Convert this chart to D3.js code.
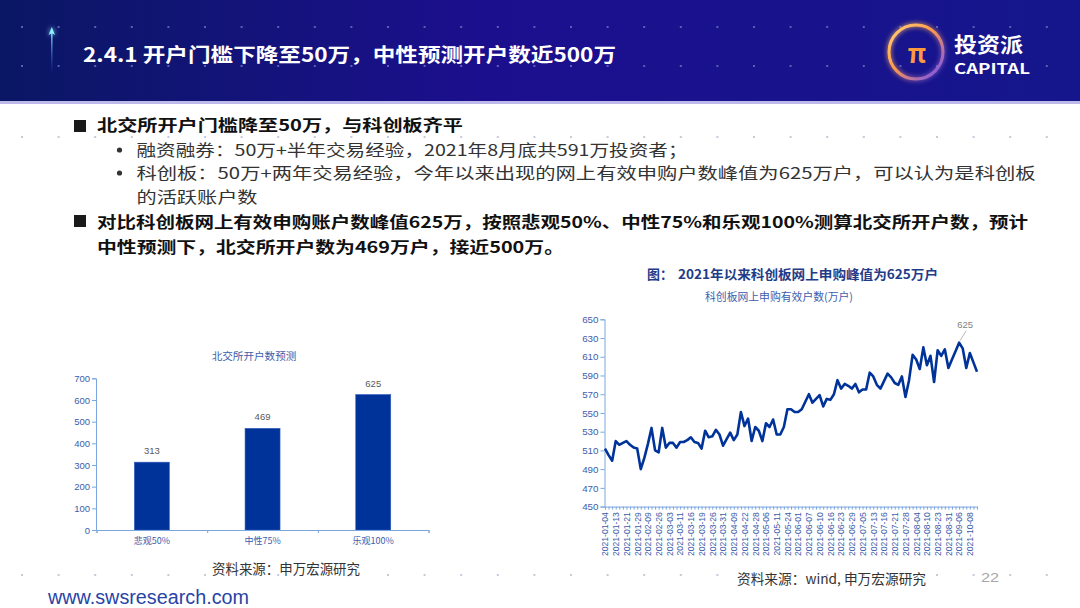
<!DOCTYPE html>
<html>
<head>
<meta charset="utf-8">
<script src="https://cdn.jsdelivr.net/npm/d3@7"></script>
<style>
html, body { margin: 0; padding: 0; background: #fff; }
svg { display: block; }
text { font-family: "Noto Sans CJK SC", "Noto Sans", sans-serif; }
.num, .num text { font-family: "Liberation Sans", Arial, sans-serif; }
</style>
</head>
<body>
<div id="slide"></div>
<script>
// Bar chart: 北交所开户数预测
const barCategories = ["悲观50%", "中性75%", "乐观100%"];
const barValues = [313, 469, 625];
const barTicks = [0, 100, 200, 300, 400, 500, 600, 700];

// Line chart: 科创板网上申购有效户数(万户)
const lineTickLabels = [
    "2021-01-04", "2021-01-13", "2021-01-21", "2021-01-29", "2021-02-09", "2021-02-26",
    "2021-03-03", "2021-03-11", "2021-03-16", "2021-03-19", "2021-03-26", "2021-03-31",
    "2021-04-09", "2021-04-22", "2021-04-28", "2021-05-06", "2021-05-11", "2021-05-24",
    "2021-06-01", "2021-06-07", "2021-06-10", "2021-06-16", "2021-06-23", "2021-06-29",
    "2021-07-05", "2021-07-13", "2021-07-16", "2021-07-21", "2021-07-28", "2021-08-04",
    "2021-08-10", "2021-08-23", "2021-08-31", "2021-09-06", "2021-10-08"
];
const lineLabelStep = 3; // one date label every 3 subscription days
const lineValues = [
    512, 505, 499, 520, 516, 518, 520, 516, 513, 512,
    490, 502, 517, 534, 510, 508, 534, 513, 518, 518,
    513, 519, 519, 521, 524, 519, 518, 512, 531, 524,
    525, 532, 527, 515, 522, 529, 521, 527, 551, 536,
    544, 520, 535, 531, 520, 539, 535, 543, 527, 527,
    535, 554, 554, 551, 551, 554, 562, 570, 561, 565,
    569, 557, 565, 564, 570, 585, 576, 581, 579, 576,
    581, 572, 575, 575, 593, 589, 580, 576, 584, 592,
    588, 582, 580, 589, 567, 585, 612, 607, 597, 620,
    601, 611, 583, 617, 611, 618, 598, 607, 616, 625,
    619, 598, 614, 604, 594
];
const lineTicks = [450, 470, 490, 510, 530, 550, 570, 590, 610, 630, 650];

const W = 1080, H = 608;
const svg = d3.select("#slide").append("svg")
    .attr("width", W)
    .attr("height", H)
    .attr("viewBox", `0 0 ${W} ${H}`);

const defs = svg.append("defs");

const headGrad = defs.append("linearGradient").attr("id", "headGrad");
headGrad.append("stop").attr("offset", "0%").attr("stop-color", "#0a1764");
headGrad.append("stop").attr("offset", "45%").attr("stop-color", "#1c0f8e");
headGrad.append("stop").attr("offset", "100%").attr("stop-color", "#15168c");

const arrowGrad = defs.append("linearGradient")
    .attr("id", "arrowGrad").attr("x1", 0).attr("y1", 0).attr("x2", 0).attr("y2", 1);
arrowGrad.append("stop").attr("offset", "0%").attr("stop-color", "#7fe9ff");
arrowGrad.append("stop").attr("offset", "100%").attr("stop-color", "#2a52d8").attr("stop-opacity", 0);

const ringGrad = defs.append("linearGradient")
    .attr("id", "ringGrad").attr("x1", 0).attr("y1", 0).attr("x2", 1).attr("y2", 1);
ringGrad.append("stop").attr("offset", "0%").attr("stop-color", "#ffd27a");
ringGrad.append("stop").attr("offset", "45%").attr("stop-color", "#ff9a4a");
ringGrad.append("stop").attr("offset", "100%").attr("stop-color", "#6b4cff");

const glow = defs.append("filter").attr("id", "glow")
    .attr("x", "-50%").attr("y", "-50%").attr("width", "200%").attr("height", "200%");
glow.append("feGaussianBlur").attr("stdDeviation", 2.5).attr("result", "b");
const merge = glow.append("feMerge");
merge.append("feMergeNode").attr("in", "b");
merge.append("feMergeNode").attr("in", "SourceGraphic");

// ---------- header ----------
svg.append("rect").attr("width", W).attr("height", 101).attr("fill", "url(#headGrad)");
svg.append("rect").attr("y", 101).attr("width", W).attr("height", 3).attr("fill", "#bdb9ea");

// decorative dots
const dotXs = d3.range(21, W, 36.6);
[27, 66].forEach(y => {
    svg.append("g").selectAll("rect").data(dotXs).join("rect")
        .attr("x", d => d).attr("y", y - 1).attr("width", 2).attr("height", 2)
        .attr("fill", "#5a5fb0");
});
[137, 575].forEach(y => {
    svg.append("g").selectAll("rect").data(dotXs).join("rect")
        .attr("x", d => d).attr("y", y - 1).attr("width", 2).attr("height", 2)
        .attr("fill", "#c9c9dc");
});

// arrow mark
svg.append("rect").attr("x", 51).attr("y", 30).attr("width", 1.6).attr("height", 44)
    .attr("fill", "url(#arrowGrad)");
svg.append("path").attr("d", "M51.8,27 L55,35 L51.8,33 L48.6,35 Z")
    .attr("fill", "#8ff0ff").attr("filter", "url(#glow)");

svg.append("text")
    .attr("x", 83).attr("y", 61.5)
    .attr("textLength", 533).attr("lengthAdjust", "spacingAndGlyphs")
    .attr("fill", "#fff").attr("font-size", 19.5).attr("font-weight", "bold")
    .text("2.4.1 开户门槛下降至50万，中性预测开户数近500万");

// logo
svg.append("circle").attr("cx", 916).attr("cy", 52).attr("r", 27)
    .attr("fill", "none").attr("stroke", "url(#ringGrad)").attr("stroke-width", 3)
    .attr("filter", "url(#glow)");
svg.append("text").attr("x", 917).attr("y", 63).attr("text-anchor", "middle")
    .attr("fill", "#ff9a3c").attr("font-size", 26).attr("font-weight", "bold")
    .attr("font-family", "DejaVu Sans").text("π");
svg.append("text").attr("x", 954).attr("y", 52)
    .attr("textLength", 69).attr("lengthAdjust", "spacingAndGlyphs")
    .attr("fill", "#fff").attr("font-size", 21).attr("font-weight", "bold").text("投资派");
svg.append("text").attr("x", 954).attr("y", 74)
    .attr("textLength", 76).attr("lengthAdjust", "spacingAndGlyphs")
    .attr("fill", "#fff").attr("font-size", 14).attr("font-weight", "bold")
    .attr("font-family", "DejaVu Sans").text("CAPITAL");

// ---------- body text ----------
const bodyLines = [
    { x: 97, y: 131, w: 366, bold: true, t: "北交所开户门槛降至50万，与科创板齐平" },
    { x: 136.5, y: 156, w: 551, bold: false, t: "融资融券：50万+半年交易经验，2021年8月底共591万投资者；" },
    { x: 136.5, y: 179, w: 899, bold: false, t: "科创板：50万+两年交易经验，今年以来出现的网上有效申购户数峰值为625万户，可以认为是科创板" },
    { x: 136.5, y: 203, w: 121, bold: false, t: "的活跃账户数" },
    { x: 97, y: 227.5, w: 931, bold: true, t: "对比科创板网上有效申购账户数峰值625万，按照悲观50%、中性75%和乐观100%测算北交所开户数，预计" },
    { x: 97, y: 252.5, w: 467, bold: true, t: "中性预测下，北交所开户数为469万户，接近500万。" }
];
svg.append("g").selectAll("text").data(bodyLines).join("text")
    .attr("x", d => d.x).attr("y", d => d.y)
    .attr("textLength", d => d.w).attr("lengthAdjust", "spacingAndGlyphs")
    .attr("font-size", 15.5)
    .attr("font-weight", d => d.bold ? "bold" : "normal")
    .attr("fill", d => d.bold ? "#111" : "#333")
    .text(d => d.t);

[120, 215].forEach(y => {
    svg.append("rect").attr("x", 74).attr("y", y).attr("width", 12).attr("height", 12).attr("fill", "#1a1a1a");
});
[150, 173].forEach(y => {
    svg.append("circle").attr("cx", 119.5).attr("cy", y).attr("r", 2.6).attr("fill", "#333");
});

// ---------- bar chart ----------
const axisBlue = "#7aa6dc";
const labelBlue = "#3d5dab";

const barX = d3.scaleBand().domain(barCategories).range([96.5, 428.6]).padding(0);
const barY = d3.scaleLinear().domain([0, 700]).range([530, 378.3]);
const barFrac = 0.316;

svg.append("text").attr("x", 254).attr("y", 360).attr("text-anchor", "middle")
    .attr("font-size", 10.6).attr("fill", labelBlue).text("北交所开户数预测");

svg.append("g").selectAll("rect").data(barValues).join("rect")
    .attr("x", (d, i) => barX(barCategories[i]) + barX.bandwidth() * (1 - barFrac) / 2)
    .attr("width", barX.bandwidth() * barFrac)
    .attr("y", d => barY(d))
    .attr("height", d => barY(0) - barY(d))
    .attr("fill", "#003399")
    .attr("stroke", "#2f5cc0").attr("stroke-width", 0.6);

svg.append("g").attr("class", "num").selectAll("text").data(barValues).join("text")
    .attr("x", (d, i) => barX(barCategories[i]) + barX.bandwidth() / 2)
    .attr("y", d => barY(d) - 8)
    .attr("text-anchor", "middle").attr("font-size", 9.5).attr("fill", "#595959")
    .text(d => d);

svg.append("g").attr("class", "num")
    .attr("transform", "translate(96,0)")
    .call(d3.axisLeft(barY).tickValues(barTicks).tickSize(4).tickPadding(2))
    .call(g => g.selectAll("line, path").attr("stroke", axisBlue))
    .call(g => g.selectAll("text").attr("fill", labelBlue).attr("font-size", 9.5));

// category boundary ticks
const barEdge = d3.scaleLinear().domain([0, barCategories.length]).range(barX.range());
svg.append("g")
    .attr("transform", "translate(0,530)")
    .call(d3.axisBottom(barEdge).ticks(barCategories.length).tickSize(3).tickFormat(""))
    .call(g => g.selectAll("line, path").attr("stroke", axisBlue));

svg.append("g")
    .attr("transform", "translate(0,530)")
    .call(d3.axisBottom(barX).tickSize(0).tickPadding(8))
    .call(g => g.select(".domain").remove())
    .call(g => g.selectAll("text").attr("fill", labelBlue).attr("font-size", 9)
        .attr("font-family", "Noto Sans CJK SC"));

svg.append("text").attr("x", 212).attr("y", 574)
    .attr("textLength", 148).attr("lengthAdjust", "spacingAndGlyphs")
    .attr("font-size", 13.5).attr("fill", "#333").text("资料来源：申万宏源研究");

// ---------- line chart ----------
const N = lineValues.length;
const lineX = d3.scaleLinear().domain([0, N - 1]).range([605, 977]);
const lineY = d3.scaleLinear().domain([450, 650]).range([506.6, 319.3]);

svg.append("text").attr("x", 647).attr("y", 279)
    .attr("font-size", 13).attr("font-weight", "bold").attr("fill", "#1f3c88").text("图：");
svg.append("text").attr("x", 678).attr("y", 279)
    .attr("textLength", 260).attr("lengthAdjust", "spacingAndGlyphs")
    .attr("font-size", 13).attr("font-weight", "bold").attr("fill", "#1f3c88")
    .text("2021年以来科创板网上申购峰值为625万户");
svg.append("text").attr("x", 705).attr("y", 301)
    .attr("textLength", 148).attr("lengthAdjust", "spacingAndGlyphs")
    .attr("font-size", 10.8).attr("fill", labelBlue).text("科创板网上申购有效户数(万户)");

svg.append("g").attr("class", "num")
    .attr("transform", "translate(604.5,0)")
    .call(d3.axisLeft(lineY).tickValues(lineTicks).tickSize(4).tickPadding(2))
    .call(g => g.selectAll("line, path").attr("stroke", axisBlue))
    .call(g => g.selectAll("text").attr("fill", labelBlue).attr("font-size", 9.8));

// a tick for every subscription day
svg.append("g")
    .attr("transform", "translate(0,506.6)")
    .call(d3.axisBottom(lineX).tickValues(d3.range(0, N)).tickSize(3).tickSizeOuter(0).tickFormat(""))
    .call(g => g.selectAll("line, path").attr("stroke", axisBlue));

svg.append("g").attr("class", "num")
    .attr("transform", "translate(0,506.6)")
    .call(d3.axisBottom(lineX)
        .tickValues(d3.range(0, N, lineLabelStep))
        .tickFormat(d => lineTickLabels[d / lineLabelStep])
        .tickSize(0))
    .call(g => g.select(".domain").remove())
    .call(g => g.selectAll("text")
        .attr("transform", "rotate(-90)")
        .attr("text-anchor", "end")
        .attr("x", -5.5).attr("y", 0).attr("dy", "0.33em")
        .attr("fill", labelBlue).attr("font-size", 8.6));

const line = d3.line()
    .x((d, i) => lineX(i))
    .y(d => lineY(d));

svg.append("path")
    .datum(lineValues)
    .attr("d", line)
    .attr("fill", "none")
    .attr("stroke", "#003399")
    .attr("stroke-width", 2.6)
    .attr("stroke-linejoin", "round");

// peak annotation
const peakValue = d3.max(lineValues);
const peakIdx = lineValues.indexOf(peakValue);
svg.append("line")
    .attr("x1", lineX(peakIdx) + 1).attr("y1", lineY(peakValue) - 2)
    .attr("x2", lineX(peakIdx) + 7).attr("y2", lineY(peakValue) - 12)
    .attr("stroke", "#a6a6a6").attr("stroke-width", 0.8);
svg.append("text").attr("class", "num")
    .attr("x", lineX(peakIdx) + 6).attr("y", lineY(peakValue) - 15)
    .attr("text-anchor", "middle").attr("font-size", 9.5).attr("fill", "#7f7f7f")
    .text(peakValue);

svg.append("text").attr("x", 737).attr("y", 584)
    .attr("textLength", 189).attr("lengthAdjust", "spacingAndGlyphs")
    .attr("font-size", 13.5).attr("fill", "#333").text("资料来源：wind, 申万宏源研究");

// ---------- footer ----------
svg.append("text").attr("class", "num").attr("x", 981).attr("y", 582)
    .attr("textLength", 18).attr("lengthAdjust", "spacingAndGlyphs")
    .attr("font-size", 13).attr("fill", "#a6a6a6").text("22");
svg.append("text").attr("class", "num").attr("x", 48).attr("y", 604)
    .attr("textLength", 201).attr("lengthAdjust", "spacingAndGlyphs")
    .attr("font-size", 20).attr("fill", "#2744a6").text("www.swsresearch.com");
</script>
</body>
</html>
